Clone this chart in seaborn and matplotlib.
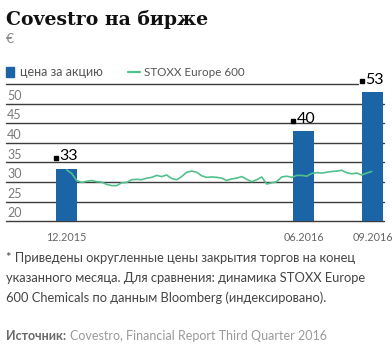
import numpy as np
import matplotlib.pyplot as plt
import matplotlib.patches as mpatches
import matplotlib.lines as mlines
import seaborn as sns

# data
months = ["12.2015", "06.2016", "09.2016"]
bar_pos = [0.0, 6.0, 7.75]          # position of each bar on the chart's time axis
bar_vals = [33.4, 42.9, 52.9]       # bar heights as drawn
bar_labels = ["33", "40", "53"]     # rounded prices shown above the bars
stoxx = [33.1, 32.2, 30.4, 29.9, 30.2, 30.4, 30.1, 30.0, 29.4, 29.1,
         29.1, 29.8, 29.9, 30.6, 30.7, 30.6, 31.0, 31.2, 31.7, 31.4,
         31.8, 30.9, 30.6, 31.4, 32.5, 32.8, 32.5, 31.6, 31.2, 31.3,
         31.2, 31.0, 30.4, 30.8, 31.0, 31.4, 30.7, 30.1, 30.6, 31.3,
         29.5, 29.8, 30.1, 31.3, 31.5, 31.2, 31.7, 31.7, 31.5, 32.2,
         32.4, 32.3, 32.5, 32.7, 32.8, 33.0, 32.4, 32.1, 32.3, 31.8,
         32.3, 32.7]
stoxx_end = 7.73
y_labels = [20, 25, 30, 35, 40, 45, 50]
grid_vals = [20, 25, 30, 35, 40, 45, 50, 55]

BLUE = "#1b64a5"
GREEN = "#52c08e"

sns.set_style("white")
plt.rcParams["font.family"] = ["Lato", "DejaVu Sans"]

W, H = 392, 350
fig = plt.figure(figsize=(W / 100, H / 100), dpi=100)
ax = fig.add_axes([6 / W, 1 - 221.3 / H, 378 / W, (221.3 - 84) / H])

# grid lines (top one stops before the last label)
for v in grid_vals:
    xmax = 0.931 if v == 55 else 1.0
    ax.axhline(v, xmax=xmax, color="#3c3c3c", lw=1.0, zorder=1, clip_on=False)

bar_w = 0.545
sns.barplot(x=bar_pos, y=bar_vals, native_scale=True, width=bar_w / 1.75,
            color=BLUE, saturation=1, linewidth=0, ax=ax, zorder=2)

sns.lineplot(x=np.linspace(0, stoxx_end, len(stoxx)), y=stoxx, color=GREEN,
             lw=1.2, ax=ax, zorder=3)

ax.set_xlim(-1.537, 8.04)
ax.set_ylim(20, 55)
sns.despine(ax=ax, left=True, bottom=True)
ax.set_ylabel("")
ax.set_yticks([])
ax.set_xticks(bar_pos, months)
ax.tick_params(axis="x", length=0, pad=7.5, labelsize=7.8, labelcolor="#666666")

# y labels sit just above their grid line
for v in y_labels:
    ax.text(0.003, v + 1.0, str(v), transform=ax.get_yaxis_transform(),
            fontsize=9, color="#7a7a7a", va="baseline", ha="left")

# value labels with small square marker
for p, h, lab in zip(bar_pos, bar_vals, bar_labels):
    x0 = p - bar_w / 2
    base = h + 2.15
    ax.plot(x0, base + 0.6, marker="s", ms=3.3, color="black", zorder=4, clip_on=False)
    ax.annotate(lab, (x0, base), xytext=(2.6, 0), textcoords="offset points",
                fontsize=11.5, va="baseline", ha="left", color="black",
                annotation_clip=False)

# title and unit
fig.text(6 / W, 1 - 25 / H, "Covestro на бирже", family="DejaVu Serif",
         fontweight="bold", fontsize=13.6, va="baseline", color="#111111")
fig.text(6 / W, 1 - 43 / H, "€", fontsize=10, va="baseline", color="#888888")

# legend
fig.patches.append(mpatches.Rectangle((6 / W, 1 - 77 / H), 8 / W, 10 / H,
                                      color=BLUE, transform=fig.transFigure))
fig.text(20 / W, 1 - 72 / H, "цена за акцию", fontsize=9, va="center", color="#555555")
fig.lines.append(mlines.Line2D([128 / W, 140 / W], [1 - 72 / H, 1 - 72 / H],
                               color=GREEN, lw=1.6, transform=fig.transFigure))
fig.text(144 / W, 1 - 72 / H, "STOXX Europe 600", fontsize=8.4, va="center", color="#555555")

# footnote
notes = ["* Приведены округленные цены закрытия торгов на конец",
         "указанного месяца. Для сравнения: динамика STOXX Europe",
         "600 Chemicals по данным Bloomberg (индексировано)."]
for i, line in enumerate(notes):
    fig.text(6 / W, 1 - (261.5 + 20 * i) / H, line, fontsize=9.3,
             va="baseline", color="#444444")

src = fig.text(6 / W, 1 - 340 / H, "Источник:", fontsize=9, fontweight="bold",
               va="baseline", color="#6a6a6a")
ax.annotate("Covestro, Financial Report Third Quarter 2016", xy=(1, 0),
            xycoords=src, xytext=(3, 0), textcoords="offset points",
            fontsize=9, va="bottom", ha="left", color="#9a9a9a",
            annotation_clip=False)

plt.savefig("out.png", dpi=100)
